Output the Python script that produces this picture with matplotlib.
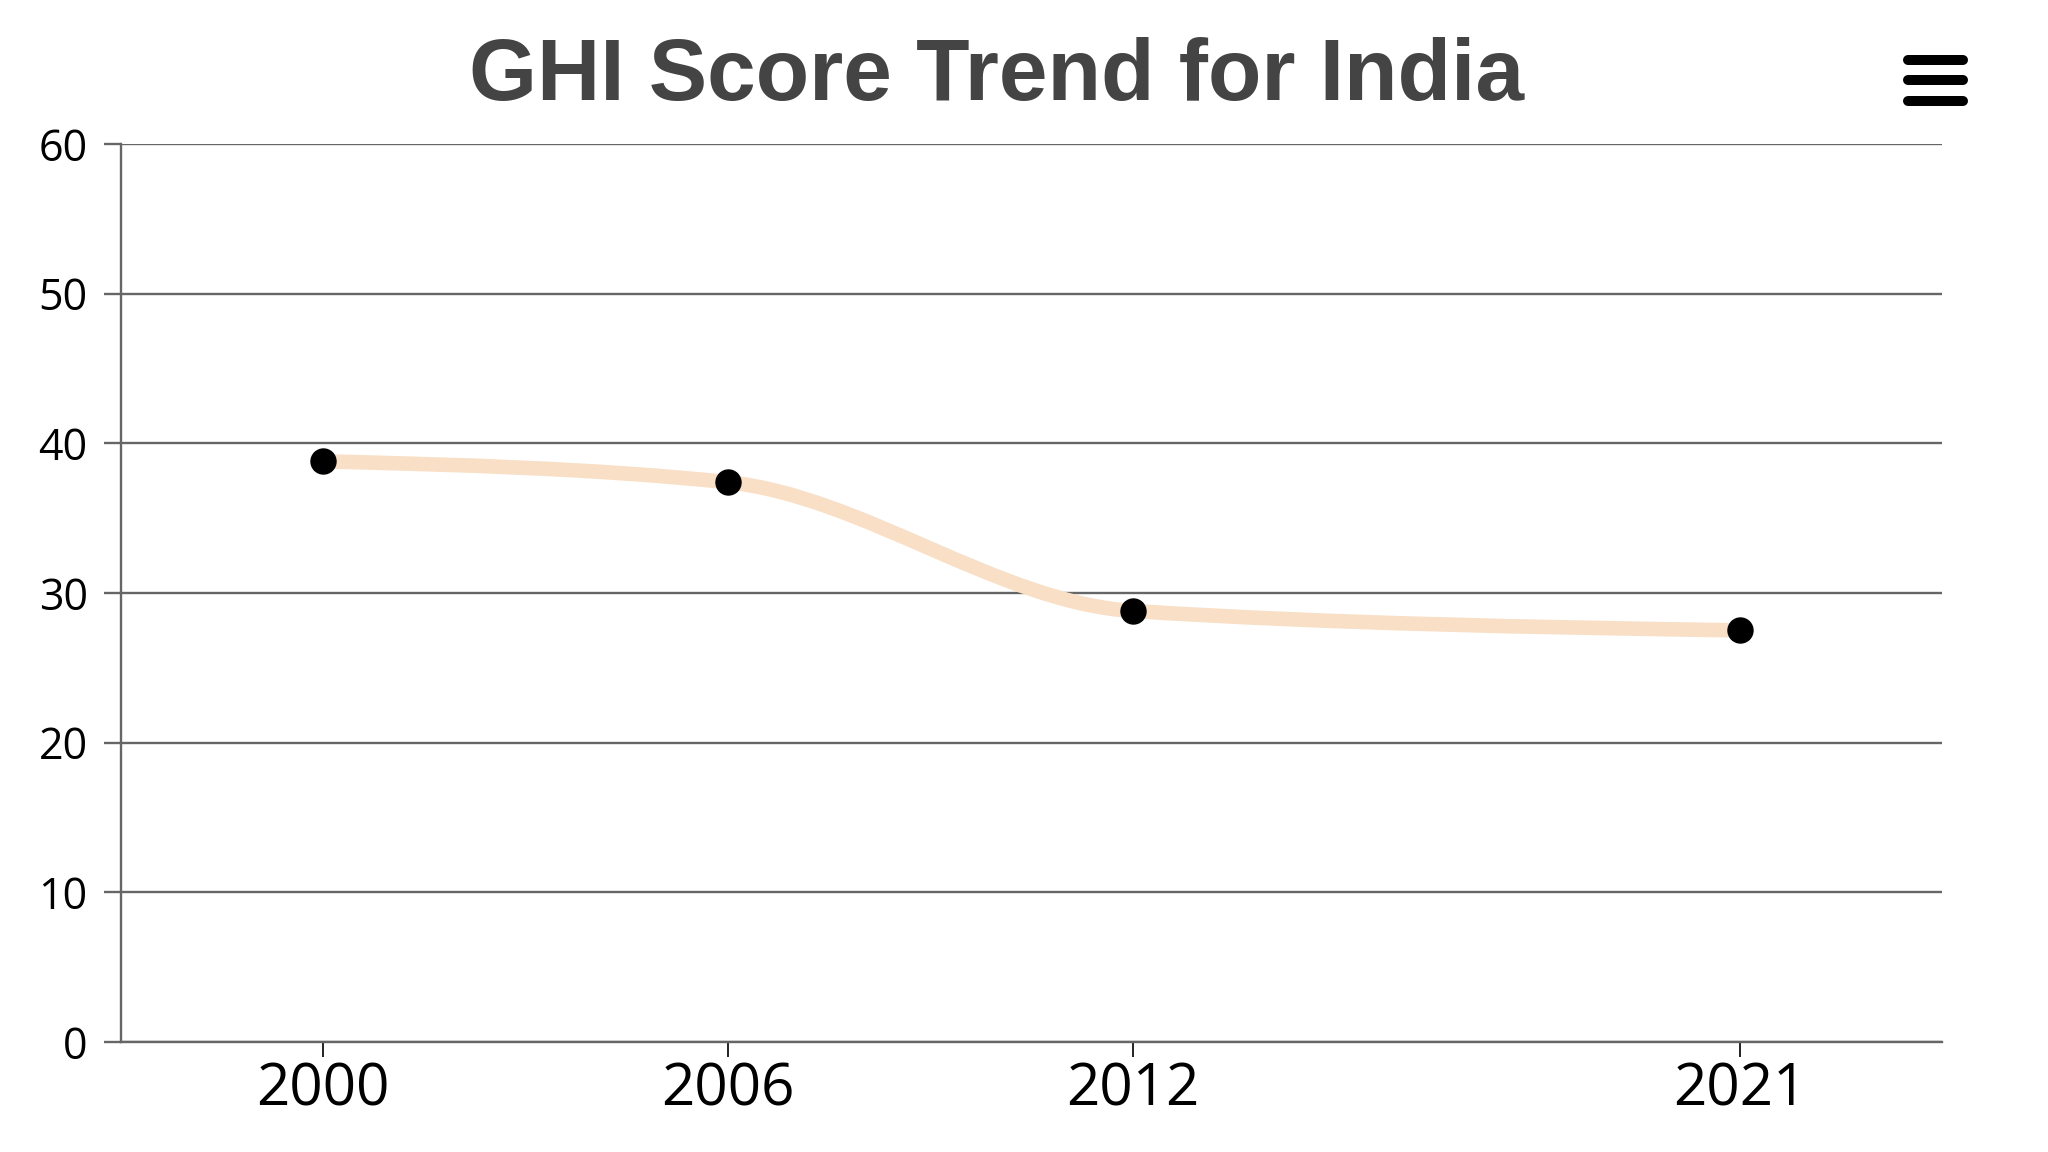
import numpy as np
import matplotlib.pyplot as plt
from matplotlib.path import Path
from matplotlib.patches import PathPatch
from matplotlib.lines import Line2D

years = [2000, 2006, 2012, 2021]
ghi_scores = [38.8, 37.4, 28.8, 27.5]
y_ticks = [0, 10, 20, 30, 40, 50, 60]
title = "GHI Score Trend for India"


def monotone_x_path(xs, ys):
    # cubic bezier path like d3.curveMonotoneX, built from the data points
    xs = np.asarray(xs, float)
    ys = np.asarray(ys, float)
    n = len(xs)
    h = np.diff(xs)
    s = np.diff(ys) / h
    t = np.zeros(n)
    for i in range(1, n - 1):
        p = (s[i-1]*h[i] + s[i]*h[i-1]) / (h[i-1] + h[i])
        t[i] = (np.sign(s[i-1]) + np.sign(s[i])) * min(abs(s[i-1]), abs(s[i]), 0.5*abs(p))
    t[0] = (3*s[0] - t[1]) / 2
    t[-1] = (3*s[-1] - t[-2]) / 2
    verts = [(xs[0], ys[0])]
    codes = [Path.MOVETO]
    for i in range(n - 1):
        dx = h[i] / 3
        verts += [(xs[i]+dx, ys[i]+dx*t[i]), (xs[i+1]-dx, ys[i+1]-dx*t[i+1]), (xs[i+1], ys[i+1])]
        codes += [Path.CURVE4]*3
    return Path(verts, codes)


fig = plt.figure(figsize=(20.48, 11.52), dpi=100)
ax = fig.add_axes([121/2048, 1-1042/1152, (1942-121)/2048, (1042-144)/1152])

grid_col = '#666666'
ax.set_xlim(1997, 2024)
ax.set_ylim(0, 60)
ax.set_yticks(y_ticks)
ax.set_xticks(years)
ax.yaxis.grid(True, color=grid_col, lw=1.7)
ax.set_axisbelow(True)

for side in ['top', 'right']:
    ax.spines[side].set_visible(False)
for side in ['left', 'bottom']:
    ax.spines[side].set_color(grid_col)
    ax.spines[side].set_linewidth(1.7)

ax.tick_params(axis='y', length=12, width=1.7, color=grid_col, pad=12,
               labelsize=31, labelcolor='black')
ax.tick_params(axis='x', length=11, width=1.4, color='#222222', pad=3,
               labelsize=42, labelcolor='black')
for lab in ax.get_xticklabels() + ax.get_yticklabels():
    lab.set_family('Open Sans')

curve = PathPatch(monotone_x_path(years, ghi_scores), facecolor='none',
                  edgecolor='#F8DFC6', lw=10.5, capstyle='butt', zorder=3)
ax.add_patch(curve)
ax.plot(years, ghi_scores, ls='', marker='o', ms=18, color='black', zorder=4)

fig.text(997/2048, 1-100/1152, title, ha='center', va='baseline',
         fontsize=63, fontweight='bold', family='Liberation Sans', color='#444444')

# menu icon
for yy in [60, 80, 101]:
    fig.add_artist(Line2D([1908/2048, 1963/2048], [1-yy/1152, 1-yy/1152],
                          color='black', lw=7.2, solid_capstyle='round'))

fig.savefig('out.png', dpi=100, facecolor='white')
